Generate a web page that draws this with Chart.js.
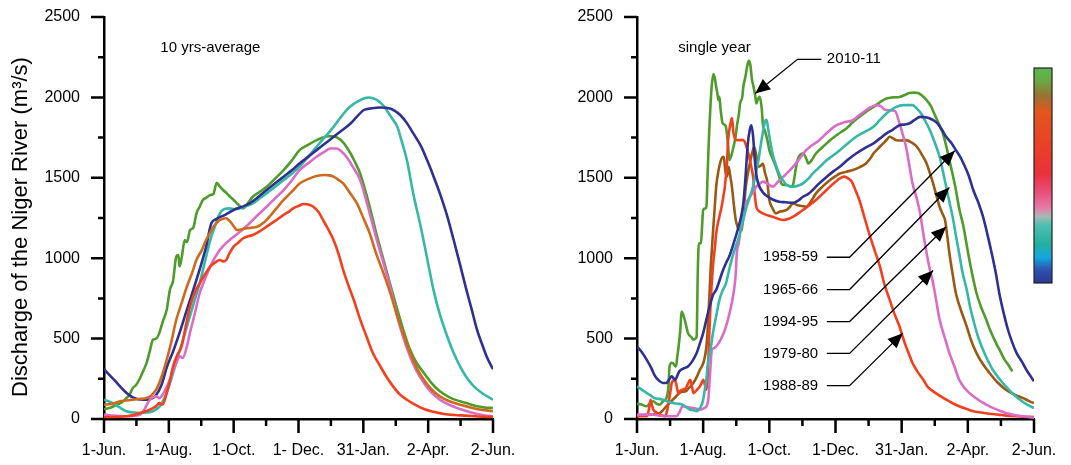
<!DOCTYPE html>
<html>
<head>
<meta charset="utf-8">
<script src="https://cdn.jsdelivr.net/npm/chart.js@4.4.0/dist/chart.umd.min.js"></script>
<style>
  html, body { margin: 0; padding: 0; background: #fff; }
  .panel { position: absolute; top: 0; height: 465px; }
  #leftBox { left: 0; width: 535px; }
  #rightBox { left: 535px; width: 536px; }
</style>
</head>
<body>
<div class="panel" id="leftBox"><canvas id="avgChart"></canvas></div>
<div class="panel" id="rightBox"><canvas id="yearChart"></canvas></div>
<script>
// days after 1-Jun, one tick per ~month
const tickDays = [0, 30.5, 61, 91.5, 122, 152.5, 183, 213.5, 244, 274.5, 305, 335.5, 366];
const avgTickLabels = ['1-Jun.', '1-Aug.', '1-Oct.', '1- Dec.', '31-Jan.', '2-Apr.', '2-Jun.'];
const yearTickLabels = ['1-Jun.', '1-Aug.', '1-Oct.', '1-Dec.', '31-Jan.', '2-Apr.', '2-Jun.'];
const yTicks = [0, 250, 500, 750, 1000, 1250, 1500, 1750, 2000, 2250, 2500];

// ---- 10 yrs-average panel: [day, discharge m3/s] ----
const avgBlue = [[0,310],[10,240],[20,170],[27,135],[37,120],[44,125],[48,140],[54,210],[59,320],[65,420],[71,534],[78,680],[84,803],[90,930],[96,1070],[101,1217],[106,1245],[114,1270],[122,1300],[130,1320],[137,1341],[145,1380],[153,1424],[161,1466],[169,1507],[177,1548],[184,1589],[192,1630],[200,1672],[208,1713],[216,1755],[224,1796],[232,1838],[238,1880],[244,1920],[252,1932],[260,1937],[269,1931],[274,1915],[279,1889],[285,1840],[291,1776],[298,1700],[304,1610],[310,1510],[316,1403],[323,1260],[329,1113],[335,960],[341,803],[346,680],[351,555],[356,460],[360,389],[366,310]];
const avgTeal = [[0,120],[4,110],[8,100],[14,75],[21,48],[28,40],[34,37],[40,40],[46,48],[52,75],[56,120],[61,200],[65,286],[71,420],[78,575],[84,710],[90,844],[95,980],[100,1113],[105,1210],[109,1279],[113,1305],[118,1310],[123,1305],[128,1310],[134,1325],[140,1341],[146,1370],[153,1403],[161,1444],[169,1486],[177,1527],[184,1569],[192,1630],[200,1693],[208,1755],[216,1817],[222,1870],[228,1920],[234,1955],[241,1983],[245,1995],[249,1999],[253,1995],[257,1983],[262,1955],[266,1920],[271,1870],[276,1817],[280,1730],[285,1610],[291,1400],[298,1196],[304,1000],[310,803],[316,650],[323,513],[329,410],[335,327],[341,260],[348,203],[356,160],[366,120]];
const avgGreen = [[0,62],[6,70],[12,89],[17,105],[21,130],[24,150],[27,192],[30,210],[34,255],[37,300],[40,348],[43,420],[46,493],[49,500],[52,534],[55,600],[59,679],[62,803],[65,860],[68,1010],[70,1020],[71,948],[73,1000],[76,1113],[78,1100],[81,1175],[84,1190],[87,1279],[90,1320],[93,1362],[96,1375],[100,1393],[103,1400],[106,1469],[109,1445],[112,1424],[116,1400],[119,1380],[122,1362],[126,1335],[131,1310],[135,1340],[140,1382],[146,1410],[153,1444],[161,1495],[169,1548],[177,1610],[184,1672],[192,1705],[200,1734],[206,1750],[211,1759],[215,1758],[219,1751],[225,1720],[232,1651],[236,1600],[241,1527],[245,1440],[250,1320],[256,1160],[263,989],[270,820],[276,679],[282,545],[288,430],[294,350],[301,286],[308,225],[316,172],[325,135],[335,110],[343,95],[351,79],[358,72],[366,68]];
const avgOrange = [[0,89],[8,95],[15,110],[21,115],[27,120],[34,125],[40,130],[45,150],[49,182],[54,260],[59,368],[63,470],[68,617],[73,720],[78,824],[83,910],[87,990],[92,1050],[96,1113],[100,1160],[103,1196],[106,1220],[109,1238],[112,1245],[115,1248],[118,1232],[120,1217],[123,1190],[125,1175],[130,1180],[134,1186],[139,1190],[144,1196],[149,1215],[153,1238],[161,1300],[169,1362],[177,1415],[184,1465],[192,1492],[200,1511],[208,1517],[212,1515],[216,1507],[220,1490],[225,1465],[231,1410],[238,1341],[244,1250],[250,1155],[256,1030],[263,906],[270,770],[276,637],[282,520],[288,410],[294,320],[301,244],[308,185],[316,141],[325,110],[335,89],[343,75],[351,62],[358,55],[366,48]];
const avgPink = [[0,27],[10,20],[21,17],[28,20],[34,27],[38,60],[43,120],[46,135],[49,141],[52,130],[56,161],[59,200],[62,244],[65,300],[68,348],[71,390],[74,380],[78,451],[81,540],[84,617],[87,700],[90,782],[95,870],[100,948],[104,1000],[109,1051],[115,1095],[122,1134],[130,1175],[137,1217],[145,1270],[153,1320],[161,1372],[169,1424],[177,1486],[184,1548],[192,1590],[200,1631],[207,1660],[213,1682],[219,1682],[224,1660],[228,1631],[234,1570],[241,1486],[245,1400],[250,1279],[256,1130],[263,969],[270,800],[276,637],[282,500],[288,389],[294,300],[301,224],[308,165],[316,120],[325,88],[335,62],[343,45],[351,31],[358,22],[366,17]];
const avgRed = [[0,12],[10,12],[21,17],[28,25],[34,37],[40,50],[46,68],[49,80],[52,99],[55,90],[59,161],[62,240],[65,327],[69,400],[73,451],[77,580],[81,700],[85,780],[90,844],[95,900],[100,948],[105,975],[109,989],[112,980],[115,989],[118,1030],[122,1072],[126,1095],[131,1124],[135,1135],[140,1144],[146,1165],[153,1196],[161,1232],[169,1269],[174,1290],[178,1310],[183,1325],[188,1337],[193,1333],[197,1320],[202,1285],[206,1238],[211,1180],[216,1113],[221,1020],[225,927],[230,830],[235,741],[241,620],[247,513],[253,410],[260,327],[266,260],[272,203],[278,155],[285,120],[293,88],[301,62],[310,45],[320,31],[330,25],[341,21],[352,16],[366,12]];

// ---- single year panel ----
const yr1958 = [[0,450],[4,420],[9,368],[13,320],[16,275],[20,240],[24,224],[27,224],[30,250],[32,265],[35,244],[39,296],[43,315],[47,327],[51,360],[55,410],[58,470],[61,534],[64,620],[67,700],[70,770],[73,803],[76,860],[79,920],[82,969],[85,1010],[89,1090],[93,1180],[96,1260],[98,1340],[100,1500],[102,1700],[104,1800],[105.5,1827],[107,1760],[108.5,1620],[110,1520],[112,1460],[116,1410],[120,1385],[125,1365],[131,1351],[137,1348],[144,1345],[149,1360],[153,1382],[158,1400],[162,1424],[168,1465],[175,1507],[181,1540],[187,1569],[194,1610],[202,1651],[210,1685],[218,1714],[224,1745],[230,1776],[236,1800],[242,1827],[247,1832],[251,1838],[256,1860],[261,1879],[266,1876],[270,1869],[274,1855],[277,1838],[281,1800],[285,1755],[290,1715],[294,1672],[298,1630],[301,1589],[306,1510],[310,1424],[315,1340],[319,1258],[323,1150],[327,1031],[331,900],[334,782],[338,660],[342,555],[346,475],[350,410],[355,355],[359,306],[363,265],[366,234]];
const yr1965 = [[0,203],[5,180],[9,161],[13,145],[16,130],[20,125],[24,120],[28,110],[33,99],[38,95],[42,89],[46,70],[49,58],[52,55],[55,48],[57,60],[59,79],[61,120],[62,161],[64,250],[65,327],[68,440],[70,534],[73,640],[76,741],[79,800],[82,844],[85,930],[89,1031],[92,1090],[95,1155],[98,1240],[101,1320],[104,1380],[107,1445],[110,1540],[112,1610],[114,1700],[116,1780],[118,1850],[119.5,1860],[121,1800],[123,1720],[125,1650],[128,1580],[131,1527],[134,1490],[138,1455],[141,1448],[144,1445],[149,1452],[153,1465],[158,1495],[162,1527],[168,1565],[175,1610],[181,1640],[187,1672],[194,1712],[202,1755],[210,1786],[218,1817],[224,1860],[230,1900],[235,1925],[239,1941],[245,1952],[250,1952],[254,1952],[258,1930],[262,1900],[266,1850],[270,1796],[275,1710],[279,1631],[282,1540],[285,1445],[288,1350],[291,1258],[294,1140],[297,1031],[300,915],[304,803],[307,700],[310,617],[314,520],[319,430],[323,370],[328,306],[334,250],[340,203],[346,160],[353,120],[359,92],[366,68]];
const yr1994 = [[0,21],[6,24],[12,27],[17,32],[21,37],[24,55],[27,79],[30,100],[33,120],[36,140],[39,161],[42,170],[45,172],[48,195],[52,224],[55,260],[58,306],[60,330],[62,368],[64,450],[65,534],[67,800],[68,948],[69,1050],[70,1155],[72,1350],[73,1445],[75,1540],[78,1620],[80,1630],[81.5,1540],[83,1507],[84.5,1569],[86,1510],[87.5,1445],[89,1350],[91,1240],[93,1190],[96,1170],[98,1260],[100,1424],[102,1520],[104,1589],[106,1650],[108,1693],[110,1640],[112,1569],[114,1575],[116,1589],[118,1530],[120,1480],[122,1362],[125,1310],[128,1279],[132,1290],[138,1300],[141,1320],[144,1341],[148,1330],[152,1325],[156,1320],[160,1350],[165,1403],[171,1445],[178,1486],[183,1510],[187,1527],[193,1538],[199,1548],[205,1565],[211,1589],[215,1620],[218,1651],[222,1680],[227,1714],[230,1735],[233,1755],[236,1745],[239,1734],[244,1732],[248,1734],[253,1720],[258,1693],[263,1640],[267,1589],[270,1530],[273,1465],[276,1390],[279,1320],[282,1270],[284,1238],[286,1140],[288,1031],[291,900],[294,782],[299,670],[304,575],[308,490],[313,410],[319,340],[325,286],[332,230],[340,182],[348,152],[356,130],[361,113],[366,99]];
const yr1979 = [[0,27],[8,27],[15,27],[21,20],[27,17],[32,17],[36,17],[39,40],[42,79],[46,75],[50,70],[54,65],[58,58],[61,65],[64,79],[65.5,110],[66,141],[67.5,300],[69,430],[71,440],[73,451],[76,480],[79,520],[82,575],[85,650],[89,782],[91,900],[92,1031],[94,1100],[95,1155],[97,1240],[98,1320],[101,1350],[104,1382],[107,1410],[110,1445],[113,1462],[116,1476],[120,1465],[125,1445],[130,1475],[135,1507],[140,1540],[144,1569],[150,1620],[156,1672],[162,1705],[168,1734],[176,1785],[184,1827],[191,1845],[199,1858],[205,1890],[211,1920],[216,1940],[221,1952],[225,1945],[228,1925],[233,1920],[238,1915],[242,1838],[245,1770],[248,1693],[251,1580],[254,1465],[258,1370],[261,1279],[264,1150],[267,1031],[270,930],[273,844],[276,730],[279,617],[284,500],[288,410],[293,320],[297,244],[303,185],[310,141],[318,105],[325,79],[333,55],[340,37],[348,25],[356,17],[366,8]];
const yr1988 = [[0,17],[5,17],[9,17],[11,60],[12.5,120],[14,80],[15,58],[18,40],[21,27],[24,20],[26,17],[28,60],[29,99],[31,180],[32,224],[34,240],[35,244],[37,190],[38,161],[40,175],[42,182],[45,192],[47,220],[49,244],[51,190],[52,161],[55,180],[58,203],[60,230],[61,244],[63,200],[64,182],[65,244],[66.5,500],[68,741],[70,948],[72,1080],[73,1155],[76,1260],[78,1320],[80,1400],[81,1445],[83,1600],[84,1734],[86,1830],[87.5,1872],[89,1776],[90.5,1740],[92,1734],[95,1734],[98,1734],[101,1693],[104,1610],[107,1507],[108.5,1400],[110,1320],[113,1290],[116,1279],[120,1268],[125,1258],[130,1245],[135,1238],[140,1245],[144,1258],[149,1280],[153,1300],[159,1330],[165,1362],[171,1400],[178,1445],[183,1475],[187,1496],[191,1507],[195,1495],[198,1476],[201,1430],[205,1362],[209,1270],[214,1155],[219,1050],[224,948],[228,840],[233,741],[237,660],[242,575],[245,510],[248,451],[251,400],[254,348],[259,290],[264,244],[268,200],[273,172],[279,145],[285,120],[291,98],[297,79],[304,62],[310,48],[318,40],[325,33],[333,27],[340,21],[352,16],[366,12]];
const yr2010 = [[0,95],[4,90],[9,79],[12,100],[15,110],[18,95],[21,89],[24,110],[27,130],[29,200],[30,327],[32,350],[33,348],[35,330],[36,327],[37,380],[38,430],[40,560],[41,668],[43,640],[44,617],[46,560],[47,534],[50,510],[52,493],[54,500],[55,513],[56,900],[57,1093],[59,1093],[60,1200],[61,1300],[63,1310],[64,1320],[65,1500],[66,1693],[67,1850],[68,1983],[69,2080],[70.5,2145],[72,2110],[73,2065],[74,2030],[75,1983],[76,2003],[77,1930],[79,1838],[81,1830],[82,1817],[84,1700],[85,1610],[87,1640],[89,1693],[91,1760],[92,1817],[94,1900],[95,1962],[97,2000],[98,2065],[100,2130],[101.5,2190],[103,2227],[104.5,2200],[106,2110],[107.5,2065],[109,2010],[110,1962],[111.5,1990],[113,2003],[115,1930],[116,1838],[118,1790],[120,1740],[122,1672],[125,1620],[128,1569],[131,1510],[133,1465],[136,1455],[138,1455],[142,1445],[144,1460],[146,1540],[148,1610],[150,1640],[153,1651],[156,1620],[158,1589],[161,1610],[165,1651],[171,1690],[178,1734],[185,1770],[193,1807],[199,1845],[205,1879],[211,1910],[218,1941],[224,1970],[230,1993],[236,2000],[242,2003],[247,2015],[251,2028],[255,2030],[259,2028],[263,2010],[267,1983],[271,1945],[274,1900],[278,1840],[282,1776],[285,1700],[288,1610],[291,1520],[294,1424],[297,1310],[301,1196],[304,1080],[307,969],[310,870],[313,782],[317,700],[322,617],[326,545],[331,472],[335,420],[339,368],[343,330],[346,296]];

// arrow labels (single year panel), label anchor and arrow tip in data units
const yearLabels = ['1958-59', '1965-66', '1994-95', '1979-80', '1988-89'];
const yearLabelLevels = [1006, 805, 606, 408, 207];
const yearArrowTips = [[293,1668], [288,1440], [285,1196], [273,923], [245,534]];

const COLORS = {
    blue: '#2e3192', teal: '#35b8a8', green: '#4f9b2c', orange: '#cf6a1d',
    brown: '#9a5a14', pink: '#db6cc6', red: '#f2401f'
};
const FONT = "'Liberation Sans', Arial, Helvetica, sans-serif";
Chart.defaults.font.family = FONT;
Chart.defaults.color = '#000';

function lineSet(data, color) {
    return {
        data: data, borderColor: color, borderWidth: 2.6, pointRadius: 0,
        fill: false, cubicInterpolationMode: 'monotone'
    };
}

// ticks of different length, drawn through the scales
const axisTicks = {
    id: 'axisTicks',
    afterDraw(chart) {
        const { ctx, scales: { x, y } } = chart;
        ctx.save();
        ctx.strokeStyle = '#000';
        ctx.lineWidth = 2.5;
        ctx.beginPath();
        y.ticks.forEach(t => {
            const py = y.getPixelForValue(t.value);
            const len = t.value % 500 === 0 ? 13 : 6;
            ctx.moveTo(x.left - len, py); ctx.lineTo(x.left, py);
        });
        x.ticks.forEach((t, i) => {
            const px = x.getPixelForValue(t.value);
            const len = i % 2 === 0 ? 14 : 7;
            ctx.moveTo(px, y.bottom); ctx.lineTo(px, y.bottom + len);
        });
        ctx.stroke();
        ctx.restore();
    }
};

function drawArrow(ctx, pts) {
    ctx.beginPath();
    ctx.moveTo(pts[0][0], pts[0][1]);
    for (let i = 1; i < pts.length; i++) ctx.lineTo(pts[i][0], pts[i][1]);
    ctx.stroke();
    const [x1, y1] = pts[pts.length - 2], [x2, y2] = pts[pts.length - 1];
    const a = Math.atan2(y2 - y1, x2 - x1), L = 15, W = 6.5;
    ctx.beginPath();
    ctx.moveTo(x2, y2);
    ctx.lineTo(x2 - L * Math.cos(a) + W * Math.sin(a), y2 - L * Math.sin(a) - W * Math.cos(a));
    ctx.lineTo(x2 - L * Math.cos(a) - W * Math.sin(a), y2 - L * Math.sin(a) + W * Math.cos(a));
    ctx.closePath();
    ctx.fill();
}

const avgNotes = {
    id: 'avgNotes',
    afterDraw(chart) {
        const { ctx, scales: { x, y } } = chart;
        ctx.save();
        ctx.fillStyle = '#000';
        ctx.font = '15px ' + FONT;
        ctx.textBaseline = 'middle';
        ctx.fillText('10 yrs-average', x.getPixelForValue(53), y.getPixelForValue(2307));
        // y axis title
        ctx.translate(27, 227);
        ctx.rotate(-Math.PI / 2);
        ctx.font = '22px ' + FONT;
        ctx.textAlign = 'center';
        ctx.textBaseline = 'alphabetic';
        ctx.fillText('Discharge of the Niger River (m\u00B3/s)', 0, 0);
        ctx.restore();
    }
};

const yearNotes = {
    id: 'yearNotes',
    afterDraw(chart) {
        const { ctx, chartArea, scales: { x, y } } = chart;
        const X = v => x.getPixelForValue(v), Y = v => y.getPixelForValue(v);
        ctx.save();
        ctx.fillStyle = '#000';
        ctx.strokeStyle = '#000';
        ctx.lineWidth = 1.3;
        ctx.textBaseline = 'middle';
        ctx.font = '15px ' + FONT;
        ctx.fillText('single year', X(38), Y(2307));
        ctx.fillText('2010-11', X(175), Y(2237));
        drawArrow(ctx, [[X(170), Y(2237)], [X(148), Y(2237)], [X(109), Y(2024)]]);
        ctx.textAlign = 'right';
        yearLabels.forEach((lab, i) => {
            const lv = yearLabelLevels[i];
            ctx.fillText(lab, X(167), Y(lv));
            drawArrow(ctx, [[X(175), Y(lv)], [X(196), Y(lv)], [X(yearArrowTips[i][0]), Y(yearArrowTips[i][1])]]);
        });
        // colour bar
        const bx = chartArea.right, by = chartArea.top + 51, bw = 18, bh = 215;
        const g = ctx.createLinearGradient(0, by, 0, by + bh);
        [[0, '#5bb94e'], [0.06, '#6aa843'], [0.13, '#9a7232'], [0.2, '#e0581f'], [0.36, '#ea4027'],
         [0.49, '#e8323c'], [0.58, '#e8507a'], [0.65, '#e87aa8'], [0.69, '#a8b8b4'], [0.73, '#4fc0b0'],
         [0.82, '#22b0a0'], [0.88, '#12a8e0'], [0.94, '#3050b0'], [1, '#2b3990']]
            .forEach(s => g.addColorStop(s[0], s[1]));
        ctx.fillStyle = g;
        ctx.fillRect(bx, by, bw, bh);
        ctx.strokeStyle = '#222';
        ctx.lineWidth = 1.2;
        ctx.strokeRect(bx, by, bw, bh);
        ctx.restore();
    }
};

function buildChart(canvasId, datasets, axisWidth, rightPad, xLabels, notes) {
    return new Chart(document.getElementById(canvasId), {
        type: 'line',
        data: { datasets: datasets },
        options: {
            responsive: true,
            maintainAspectRatio: false,
            animation: false,
            layout: { padding: { top: 17, right: rightPad, left: 0, bottom: 0 } },
            plugins: { legend: { display: false }, tooltip: { enabled: false } },
            scales: {
                x: {
                    type: 'linear', min: 0, max: 366,
                    grid: { display: false, drawTicks: false },
                    border: { color: '#000', width: 2.5 },
                    afterBuildTicks: s => { s.ticks = tickDays.map(v => ({ value: v })); },
                    afterFit: s => { s.height = 46; s.paddingLeft = 0; s.paddingRight = 0; },
                    ticks: {
                        autoSkip: false, maxRotation: 0, padding: 22,
                        font: { size: 16 },
                        callback: (v, i) => (i % 2 === 0 ? xLabels[i / 2] : '')
                    }
                },
                y: {
                    min: 0, max: 2500,
                    grid: { display: false, drawTicks: false },
                    border: { color: '#000', width: 2.5 },
                    afterBuildTicks: s => { s.ticks = yTicks.map(v => ({ value: v })); },
                    afterFit: s => { s.width = axisWidth; s.paddingTop = 0; s.paddingBottom = 0; },
                    ticks: {
                        padding: 24, font: { size: 16 },
                        callback: v => (v % 500 === 0 ? v : '')
                    }
                }
            }
        },
        plugins: [axisTicks, notes]
    });
}

buildChart('avgChart', [
    lineSet(avgRed, COLORS.red),
    lineSet(avgOrange, COLORS.orange),
    lineSet(avgPink, COLORS.pink),
    lineSet(avgBlue, COLORS.blue),
    lineSet(avgTeal, COLORS.teal),
    lineSet(avgGreen, COLORS.green)
], 104, 42, avgTickLabels, avgNotes);

buildChart('yearChart', [
    lineSet(yr1958, COLORS.blue),
    lineSet(yr1965, COLORS.teal),
    lineSet(yr1979, COLORS.pink),
    lineSet(yr1988, COLORS.red),
    lineSet(yr1994, COLORS.brown),
    lineSet(yr2010, COLORS.green)
], 102, 37, yearTickLabels, yearNotes);
</script>
</body>
</html>
